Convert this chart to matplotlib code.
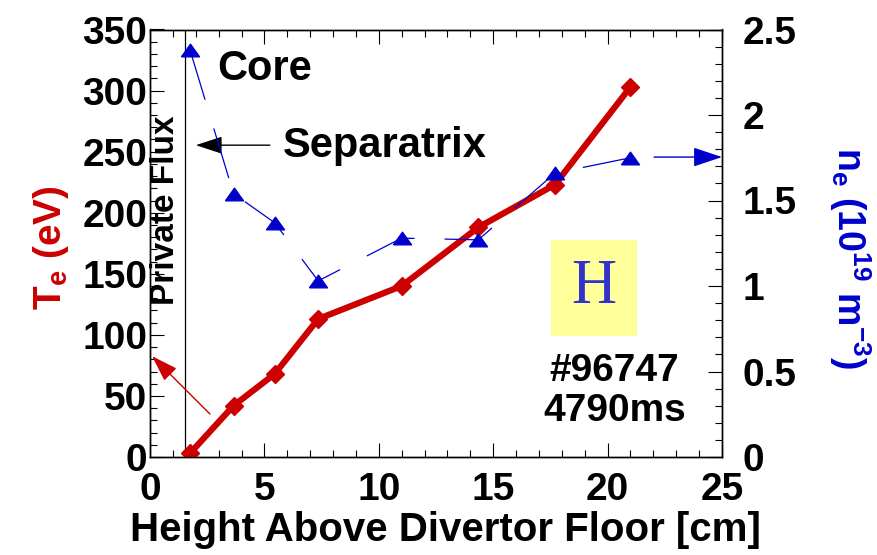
import matplotlib
matplotlib.use('Agg')
import matplotlib.pyplot as plt
from matplotlib.ticker import MultipleLocator, FixedLocator, FixedFormatter
from matplotlib.patches import Rectangle

plt.rcParams['font.family'] = ['Liberation Sans', 'DejaVu Sans']
plt.rcParams['font.weight'] = 'bold'
plt.rcParams['axes.labelweight'] = 'bold'
plt.rcParams['mathtext.default'] = 'regular'
plt.rcParams['lines.scale_dashes'] = False

# ---- data ----
height_cm = [1.75, 3.65, 5.45, 7.35, 11.0, 14.35, 17.7, 21.0]
te_ev = [3, 42, 68, 113, 140, 188, 223, 303]
ne_1e19 = [2.38, 1.54, 1.37, 1.03, 1.28, 1.27, 1.66, 1.75]

x_ticks = [0, 5, 10, 15, 20, 25]
x_tick_labels = ['0', '5', '10', '15', '20', '25']
te_ticks = [0, 50, 100, 150, 200, 250, 300, 350]
te_tick_labels = ['0', '50', '100', '150', '200', '250', '300', '350']
ne_ticks = [0, 0.5, 1.0, 1.5, 2.0, 2.5]
ne_tick_labels = ['0', '0.5', '1', '1.5', '2', '2.5']

separatrix_x = 1.55

RED = '#cc0000'
BLUE = '#0000cc'

fig = plt.figure(figsize=(8.77, 5.55), dpi=100)
ax = fig.add_axes([150 / 877, 1 - 457 / 555, 572 / 877, 427.5 / 555])
ax2 = ax.twinx()

# ---- axes setup ----
ax.set_xlim(0, 25)
ax.set_ylim(0, 350)
ax2.set_ylim(0, 2.5)

ax.xaxis.set_major_locator(FixedLocator(x_ticks))
ax.xaxis.set_major_formatter(FixedFormatter(x_tick_labels))
ax.xaxis.set_minor_locator(MultipleLocator(1))
ax.yaxis.set_major_locator(FixedLocator(te_ticks))
ax.yaxis.set_major_formatter(FixedFormatter(te_tick_labels))
ax.yaxis.set_minor_locator(MultipleLocator(10))
ax2.yaxis.set_major_locator(FixedLocator(ne_ticks))
ax2.yaxis.set_major_formatter(FixedFormatter(ne_tick_labels))
ax2.yaxis.set_minor_locator(MultipleLocator(0.1))

for a in (ax, ax2):
    for s in a.spines.values():
        s.set_linewidth(1.0)

ax.tick_params(which='both', direction='in', top=True, bottom=True,
               left=True, right=False, width=0.8)
ax.tick_params(which='major', length=10, labelsize=28)
ax.tick_params(which='minor', length=5)
ax.tick_params(axis='x', pad=11)
ax.tick_params(axis='y', pad=2)
ax2.tick_params(which='both', direction='in', right=True, width=0.8)
ax2.tick_params(which='major', length=10, labelsize=28, pad=15)
ax2.tick_params(which='minor', length=5)

# ---- labels ----
ax.set_xlabel('Height Above Divertor Floor [cm]', fontsize=29, fontweight='bold')
ax.xaxis.set_label_coords((445 - 150) / 572, (457 - 530) / 427.5)
ax.xaxis.label.set_va('center')

ax.set_ylabel('T$_e$ (eV)', fontsize=28, color=RED, fontweight='bold')
ax.yaxis.set_label_coords((51 - 150) / 572, (457 - 248) / 427.5)
ax.yaxis.label.set_va('center')

ax2.set_ylabel('n$_e$ (10$^{19}$ m$^{-3}$)', fontsize=27, color=BLUE,
               rotation=-90, fontweight='bold')
ax2.yaxis.set_label_coords((850 - 150) / 572, (457 - 258) / 427.5)
ax2.yaxis.label.set_va('center')

# ---- data series ----
ax.plot(height_cm, te_ev, color=RED, lw=4.5, marker='D', ms=9,
        mfc=RED, mec=RED, zorder=3)
tri = [(-1, -0.7), (1, -0.7), (0, 0.7), (-1, -0.7)]
ax2.plot(height_cm, ne_1e19, color=BLUE, lw=0.9, ls=(0, (37.4, 21.6)),
         marker=tri, ms=13, mfc=BLUE, mec=BLUE, zorder=3)

# separatrix line
ax.axvline(separatrix_x, color='black', lw=0.9, zorder=2)

# ---- annotations ----
ax.text(2.93, 318, 'Core', fontsize=30, ha='left', va='center')
ax.text(5.8, 255, 'Separatrix', fontsize=30, ha='left', va='center')
ax.text(0.66, 202, 'Private Flux', fontsize=24, rotation=90,
        ha='center', va='center')

ax.annotate('', xy=(2.0, 255.3), xytext=(5.24, 255.3),
            arrowprops=dict(arrowstyle='-|>,head_length=1.1,head_width=0.36',
                            mutation_scale=15, color='black', lw=1.0,
                            shrinkA=0, shrinkB=0))
ax.annotate('', xy=(0.09, 82.6), xytext=(2.62, 35.2),
            arrowprops=dict(arrowstyle='-|>,head_length=1.1,head_width=0.36',
                            mutation_scale=15, color=RED, lw=1.0,
                            shrinkA=0, shrinkB=0))
ax2.annotate('', xy=(25.0, 1.754), xytext=(22.03, 1.754),
             arrowprops=dict(arrowstyle='-|>,head_length=1.2,head_width=0.4',
                             mutation_scale=15, color=BLUE, lw=1.0,
                             shrinkA=0, shrinkB=0), annotation_clip=False)

ax.add_patch(Rectangle((17.53, 99), 21.28 - 17.53, 177.6 - 99,
                       facecolor='#ffff99', edgecolor='none', zorder=1))
ax.text(19.4, 138, 'H', fontsize=45, family='Liberation Serif',
        fontweight='normal', color='#3333cc', ha='center', va='center', zorder=2)
ax.text(20.3, 70.4, '#96747', fontsize=28, ha='center', va='center')
ax.text(20.3, 37.6, '4790ms', fontsize=28, ha='center', va='center')

fig.savefig('out.png', dpi=100)
